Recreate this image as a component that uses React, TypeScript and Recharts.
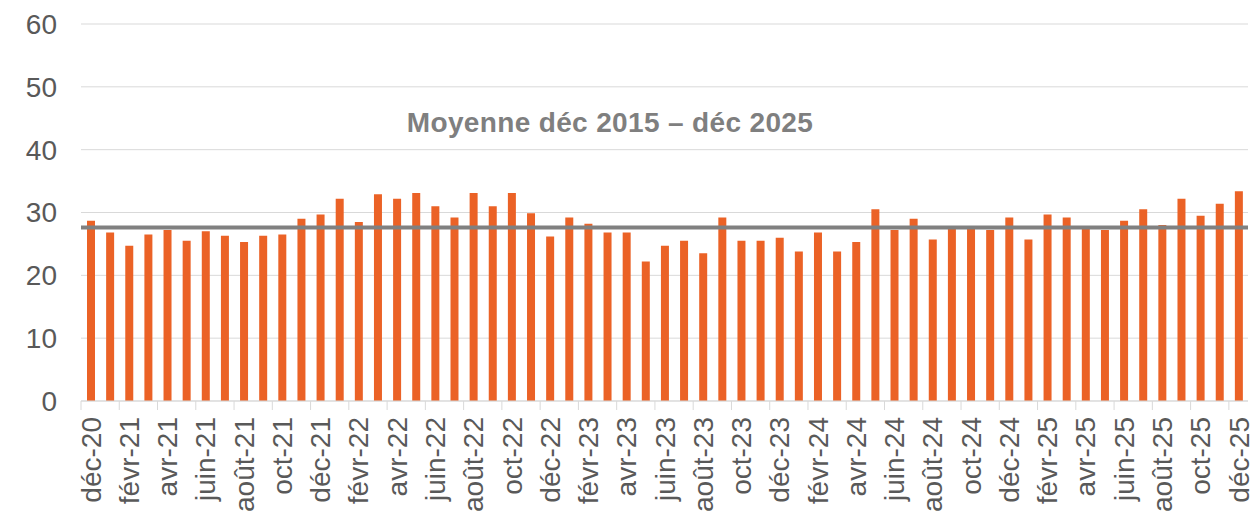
import React from 'react';
import { BarChart, Bar, XAxis, YAxis, CartesianGrid, ReferenceLine } from 'recharts';

const MONTHS: string[] = [
  'déc-20',
  'janv-21', 'févr-21', 'mars-21', 'avr-21', 'mai-21', 'juin-21', 'juil-21', 'août-21', 'sept-21', 'oct-21', 'nov-21', 'déc-21',
  'janv-22', 'févr-22', 'mars-22', 'avr-22', 'mai-22', 'juin-22', 'juil-22', 'août-22', 'sept-22', 'oct-22', 'nov-22', 'déc-22',
  'janv-23', 'févr-23', 'mars-23', 'avr-23', 'mai-23', 'juin-23', 'juil-23', 'août-23', 'sept-23', 'oct-23', 'nov-23', 'déc-23',
  'janv-24', 'févr-24', 'mars-24', 'avr-24', 'mai-24', 'juin-24', 'juil-24', 'août-24', 'sept-24', 'oct-24', 'nov-24', 'déc-24',
  'janv-25', 'févr-25', 'mars-25', 'avr-25', 'mai-25', 'juin-25', 'juil-25', 'août-25', 'sept-25', 'oct-25', 'nov-25', 'déc-25',
];

const VALUES: number[] = [
  28.7,
  26.8, 24.7, 26.5, 27.2, 25.5, 27.0, 26.3, 25.3, 26.3, 26.5, 29.0, 29.7,
  32.2, 28.5, 32.9, 32.2, 33.1, 31.0, 29.2, 33.1, 31.0, 33.1, 29.9, 26.2,
  29.2, 28.2, 26.8, 26.8, 22.2, 24.7, 25.5, 23.5, 29.2, 25.5, 25.5, 26.0,
  23.8, 26.8, 23.8, 25.3, 30.5, 27.2, 29.0, 25.7, 27.4, 27.4, 27.2, 29.2,
  25.7, 29.7, 29.2, 27.4, 27.2, 28.7, 30.5, 28.0, 32.2, 29.5, 31.4, 33.4,
];

const AVERAGE = 27.6;
const AVERAGE_LABEL = 'Moyenne déc 2015 – déc 2025';
const Y_TICKS: number[] = [0, 10, 20, 30, 40, 50, 60];

const data = MONTHS.map((m, i) => ({ m, v: VALUES[i] }));

const W = 1255;
const H = 515;
const PLOT_LEFT = 81;
const PLOT_RIGHT = 1248;
const PLOT_TOP = 24;
const PLOT_BOTTOM = 401;
const BAND = (PLOT_RIGHT - PLOT_LEFT) / MONTHS.length;
const FONT = '"Liberation Sans", Arial, sans-serif';
const TEXT = '#595959';
const GRID = '#D9D9D9';

function XTick(props: any) {
  const { x, payload } = props;
  const tx = x - BAND / 2;
  const ly = 417;
  return (
    <g>
      <line x1={tx} x2={tx} y1={PLOT_BOTTOM} y2={410} stroke={GRID} strokeWidth={1} />
      <text
        x={x}
        y={ly}
        transform={`rotate(-90 ${x} ${ly})`}
        textAnchor="end"
        dy="0.36em"
        fill={TEXT}
        fontSize={28}
        fontFamily={FONT}
      >
        {payload.value}
      </text>
    </g>
  );
}

export default function App() {
  return (
    <div style={{ position: 'fixed', left: 0, top: 0, width: W, height: H, background: '#fff' }}>
      <BarChart
        width={W}
        height={H}
        data={data}
        margin={{ top: PLOT_TOP, right: W - PLOT_RIGHT, bottom: 0, left: 0 }}
        barCategoryGap={0}
      >
        <CartesianGrid vertical={false} stroke={GRID} strokeWidth={1} />
        <XAxis
          dataKey="m"
          interval={1}
          height={H - PLOT_BOTTOM}
          tick={<XTick />}
          tickLine={false}
          axisLine={{ stroke: GRID, strokeWidth: 1 }}
        />
        <YAxis
          width={PLOT_LEFT}
          domain={[0, 60]}
          ticks={Y_TICKS}
          interval={0}
          tickLine={false}
          axisLine={false}
          tickSize={0}
          tickMargin={24}
          tick={{ fill: TEXT, fontSize: 28, fontFamily: FONT }}
        />
        <Bar dataKey="v" fill="#EB6226" barSize={8} isAnimationActive={false} />
        <ReferenceLine y={AVERAGE} stroke="#808080" strokeWidth={4} />
      </BarChart>
      <svg
        width={W}
        height={H}
        style={{ position: 'absolute', left: 0, top: 0, pointerEvents: 'none' }}
      >
        <text
          x={610}
          y={132}
          textAnchor="middle"
          fill="#7F7F7F"
          fontSize={28}
          fontWeight="bold"
          letterSpacing={0.35}
          fontFamily={FONT}
        >
          {AVERAGE_LABEL}
        </text>
      </svg>
    </div>
  );
}
